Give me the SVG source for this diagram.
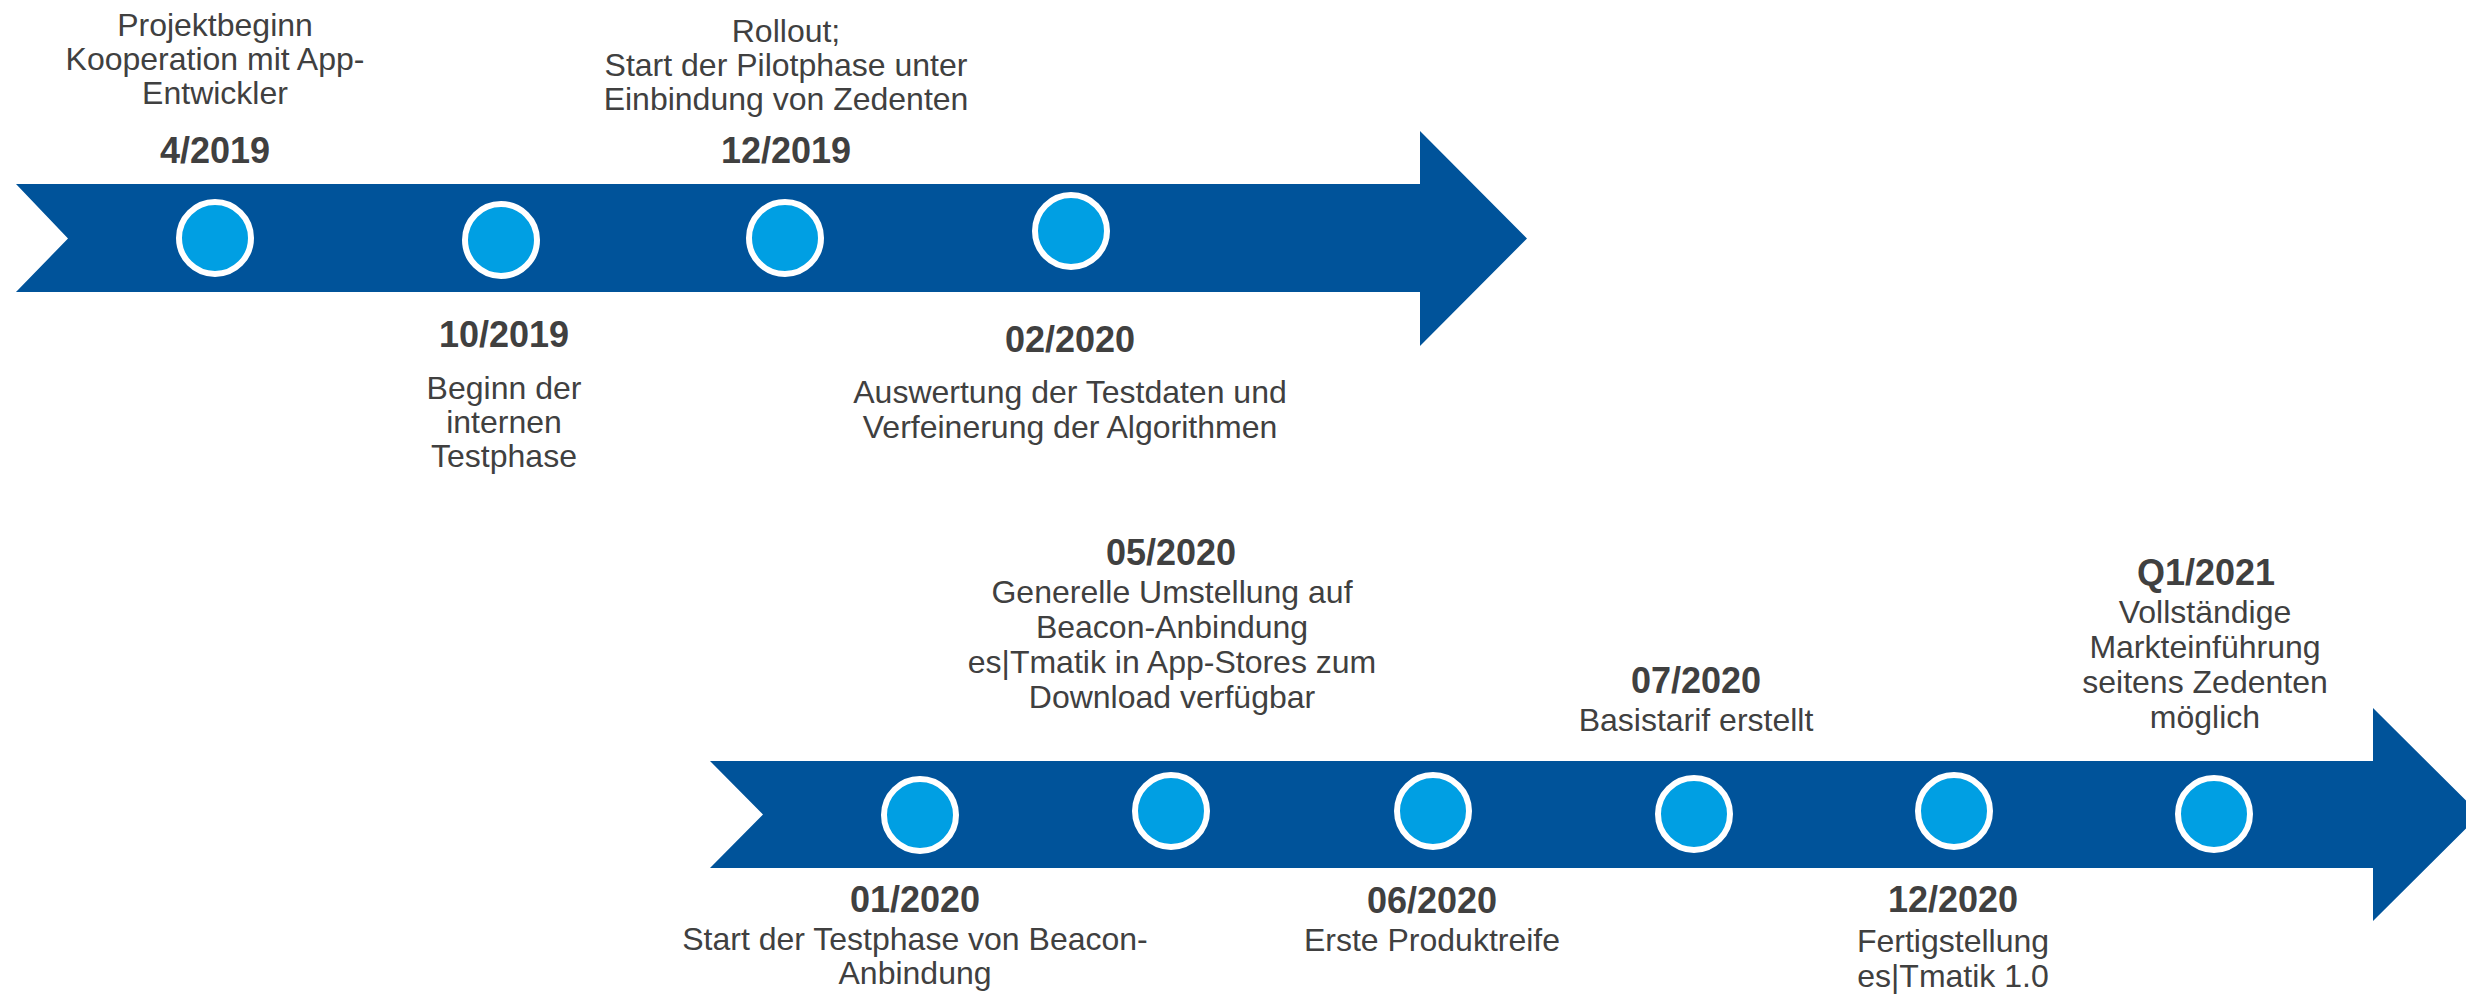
<svg xmlns="http://www.w3.org/2000/svg" width="2466" height="994" viewBox="0 0 2466 994">
<style>
.arrow{fill:#00539A}
.dot{fill:#009FE3;stroke:#FFFFFF;stroke-width:6}
text{font-family:"Liberation Sans",Arial,sans-serif;fill:#404040;text-anchor:middle}
.d{font-size:36px;font-weight:bold}
.t{font-size:32px}
</style>
<rect width="2466" height="994" fill="#FFFFFF"/>
<g id="timeline">
<polygon class="arrow" points="16,184 1420,184 1420,131 1527,238.5 1420,346 1420,292 16,292 68,238.5"/>
<polygon class="arrow" points="710,761 2373,761 2373,708 2480,814.5 2373,921 2373,868 710,868 763,814.5"/>
</g>
<g id="connectors"></g>
<g id="m-2019-04">
<circle class="dot" cx="215" cy="238" r="36"/>
<text class="t" x="215" y="36">Projektbeginn</text>
<text class="t" x="215" y="70">Kooperation mit App-</text>
<text class="t" x="215" y="104">Entwickler</text>
<text class="d" x="215" y="163">4/2019</text>
</g>
<g id="m-2019-10">
<circle class="dot" cx="501" cy="240" r="36"/>
<text class="d" x="504" y="347">10/2019</text>
<text class="t" x="504" y="399">Beginn der</text>
<text class="t" x="504" y="433">internen</text>
<text class="t" x="504" y="467">Testphase</text>
</g>
<g id="m-2019-12">
<circle class="dot" cx="785" cy="238" r="36"/>
<text class="t" x="786" y="42">Rollout;</text>
<text class="t" x="786" y="76">Start der Pilotphase unter</text>
<text class="t" x="786" y="110">Einbindung von Zedenten</text>
<text class="d" x="786" y="163">12/2019</text>
</g>
<g id="m-2020-02">
<circle class="dot" cx="1071" cy="231" r="36"/>
<text class="d" x="1070" y="352">02/2020</text>
<text class="t" x="1070" y="403">Auswertung der Testdaten und</text>
<text class="t" x="1070" y="438">Verfeinerung der Algorithmen</text>
</g>
<g id="m-2020-01">
<circle class="dot" cx="920" cy="815" r="36"/>
<text class="d" x="915" y="912">01/2020</text>
<text class="t" x="915" y="950">Start der Testphase von Beacon-</text>
<text class="t" x="915" y="984">Anbindung</text>
</g>
<g id="m-2020-05">
<circle class="dot" cx="1171" cy="811" r="36"/>
<text class="d" x="1171" y="565">05/2020</text>
<text class="t" x="1172" y="603">Generelle Umstellung auf</text>
<text class="t" x="1172" y="638">Beacon-Anbindung</text>
<text class="t" x="1172" y="673">es|Tmatik in App-Stores zum</text>
<text class="t" x="1172" y="708">Download verfügbar</text>
</g>
<g id="m-2020-06">
<circle class="dot" cx="1433" cy="811" r="36"/>
<text class="d" x="1432" y="913">06/2020</text>
<text class="t" x="1432" y="951">Erste Produktreife</text>
</g>
<g id="m-2020-07">
<circle class="dot" cx="1694" cy="814" r="36"/>
<text class="d" x="1696" y="693">07/2020</text>
<text class="t" x="1696" y="731">Basistarif erstellt</text>
</g>
<g id="m-2020-12">
<circle class="dot" cx="1954" cy="811" r="36"/>
<text class="d" x="1953" y="912">12/2020</text>
<text class="t" x="1953" y="952">Fertigstellung</text>
<text class="t" x="1953" y="987">es|Tmatik 1.0</text>
</g>
<g id="m-2021-q1">
<circle class="dot" cx="2214" cy="814" r="36"/>
<text class="d" x="2206" y="585">Q1/2021</text>
<text class="t" x="2205" y="623">Vollständige</text>
<text class="t" x="2205" y="658">Markteinführung</text>
<text class="t" x="2205" y="693">seitens Zedenten</text>
<text class="t" x="2205" y="728">möglich</text>
</g>
</svg>
